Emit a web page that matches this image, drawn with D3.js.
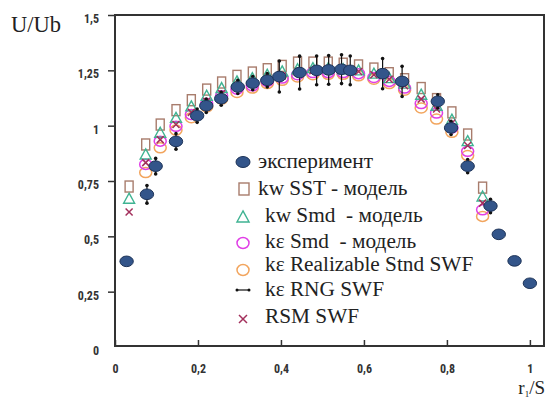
<!DOCTYPE html>
<html><head><meta charset="utf-8">
<script src="https://cdn.jsdelivr.net/npm/d3@7"></script>
<style>
html,body{margin:0;padding:0;background:#fff;}
svg{display:block;}
.tick text{font-family:"Roboto Condensed","DejaVu Sans Condensed",sans-serif;font-weight:bold;font-size:12px;fill:#333;}
.serif{font-family:"Liberation Serif","Times New Roman",serif;}
</style></head>
<body><svg id="c" width="546" height="401"></svg>
<script>
// ---- data ----
const xTicks = [0, 0.2, 0.4, 0.6, 0.8, 1];
const xTickLabels = ["0", "0,2", "0,4", "0,6", "0,8", "1"];
const yTicks = [0, 0.25, 0.5, 0.75, 1, 1.25, 1.5];
const yTickLabels = ["0", "0,25", "0,5", "0,75", "1", "1,25", "1,5"];

const xExp = [0.028, 0.077, 0.098, 0.147, 0.198, 0.22, 0.256, 0.296, 0.332, 0.367, 0.396, 0.445, 0.486, 0.515, 0.546, 0.567, 0.645, 0.692, 0.778, 0.81, 0.85, 0.905, 0.925, 0.963, 1.0];
const yExp = [0.387, 0.69, 0.817, 0.929, 1.045, 1.09, 1.122, 1.175, 1.192, 1.205, 1.222, 1.24, 1.25, 1.252, 1.255, 1.25, 1.235, 1.2, 1.11, 0.99, 0.817, 0.637, 0.509, 0.389, 0.288];
// kε RNG SWF shown as error bars on experiment points (half-range)
const errRNG = [0, 0.04, 0.035, 0.035, 0.03, 0.03, 0.03, 0.03, 0.03, 0.03, 0.07, 0.074, 0.065, 0.065, 0.065, 0.065, 0.068, 0.068, 0.03, 0.03, 0.03, 0.03, 0, 0, 0];

const xModel = [0.034, 0.074, 0.109, 0.147, 0.184, 0.221, 0.257, 0.294, 0.331, 0.367, 0.403, 0.44, 0.477, 0.514, 0.55, 0.587, 0.624, 0.661, 0.698, 0.738, 0.775, 0.812, 0.85, 0.886];
const kwSST = [0.725, 0.915, 1.005, 1.07, 1.115, 1.163, 1.195, 1.225, 1.24, 1.255, 1.27, 1.285, 1.285, 1.285, 1.28, 1.272, 1.258, 1.237, 1.21, 1.17, 1.12, 1.06, 0.96, 0.72];
const kwSmd = [0.67, 0.87, 0.968, 1.035, 1.087, 1.135, 1.17, 1.2, 1.215, 1.23, 1.245, 1.255, 1.26, 1.26, 1.255, 1.25, 1.235, 1.215, 1.19, 1.14, 1.09, 1.027, 0.93, 0.68];
const keSmd = [null, 0.825, 0.93, 0.997, 1.05, 1.1, 1.135, 1.165, 1.18, 1.2, 1.215, 1.23, 1.24, 1.24, 1.24, 1.235, 1.218, 1.2, 1.17, 1.1, 1.057, 0.99, 0.884, 0.62];
const keReal = [null, 0.788, 0.9, 0.98, 1.036, 1.085, 1.12, 1.15, 1.17, 1.19, 1.205, 1.22, 1.23, 1.232, 1.232, 1.225, 1.21, 1.19, 1.16, 1.08, 1.03, 0.97, 0.865, 0.59];
const rsm = [0.61, 0.833, 0.937, 1.005, 1.06, 1.11, 1.145, 1.175, 1.19, 1.21, 1.225, 1.24, 1.248, 1.25, 1.25, 1.245, 1.23, 1.21, 1.18, 1.12, 1.075, 1.012, 0.91, 0.65];

const legendLabels = ["эксперимент", "kw SST - модель", "kw Smd  - модель", "kε Smd  - модель", "kε Realizable Stnd SWF", "kε RNG SWF", "RSM SWF"];

// ---- styles ----
const C = {exp:"#33558a", expStroke:"#1d3358", sq:"#a87c6c", tri:"#3fb392", mag:"#e03ee6", org:"#f2a55e", x:"#a3305c", ax:"#333"};

const svg = d3.select("#c");
const L = 115, R = 544, T = 15, B = 346;
const x = d3.scaleLinear().domain([0, 1.034]).range([L, R]);
const y = d3.scaleLinear().domain([0, 1.5]).range([347, T]);

// axes
const xAxis = d3.axisBottom(x).tickValues(xTicks).tickFormat((d,i)=>xTickLabels[i]).tickSize(-6).tickPadding(18).tickSizeOuter(0);
const gx = svg.append("g").attr("transform",`translate(0,${B})`).call(xAxis);
gx.select(".domain").remove();
gx.selectAll(".tick line").attr("stroke",C.ax).attr("stroke-width",1.5);

const yAxis = d3.axisLeft(y).tickValues(yTicks).tickFormat((d,i)=>yTickLabels[i]).tickSize(7).tickPadding(9).tickSizeOuter(0);
const gy = svg.append("g").attr("transform",`translate(${L},0)`).call(yAxis);
gy.select(".domain").remove();
gy.selectAll(".tick line").attr("stroke",C.ax).attr("stroke-width",1.5);
gy.selectAll(".tick text").attr("dy","0.62em");
gy.selectAll(".tick").filter(d=>d===0).select("line").remove();

// frame
svg.append("rect").attr("x",L).attr("y",T).attr("width",R-L).attr("height",B-T)
  .attr("fill","none").attr("stroke",C.ax).attr("stroke-width",2);

// axis titles
svg.append("text").attr("class","serif").attr("x",11).attr("y",32).attr("font-size",22.5).attr("fill","#222").text("U/Ub");
const t2 = svg.append("text").attr("class","serif").attr("x",545).attr("y",394).attr("text-anchor","end").attr("font-size",19).attr("fill","#222");
t2.append("tspan").text("r");
t2.append("tspan").attr("font-size",9).attr("dy",3).text("1");
t2.append("tspan").attr("dy",-3).text("/S");

// marker helpers
function square(g, cx, cy, w, h){ g.append("rect").attr("x",cx-w/2).attr("y",cy-h/2).attr("width",w).attr("height",h).attr("fill","none").attr("stroke",C.sq).attr("stroke-width",1.4); }
function tri(g, cx, cy, s){ g.append("path").attr("d",`M${cx},${cy-s*0.55}L${cx+s*0.55},${cy+s*0.45}L${cx-s*0.55},${cy+s*0.45}Z`).attr("fill","none").attr("stroke",C.tri).attr("stroke-width",1.4); }
function ring(g, cx, cy, rx, ry, col){ g.append("ellipse").attr("cx",cx).attr("cy",cy).attr("rx",rx).attr("ry",ry).attr("fill","none").attr("stroke",col).attr("stroke-width",1.5); }
function cross(g, cx, cy, s){ g.append("path").attr("d",`M${cx-s},${cy-s}L${cx+s},${cy+s}M${cx+s},${cy-s}L${cx-s},${cy+s}`).attr("stroke",C.x).attr("stroke-width",1.5); }
function blob(g, cx, cy, rx, ry){ g.append("ellipse").attr("cx",cx).attr("cy",cy).attr("rx",rx).attr("ry",ry).attr("fill",C.exp).attr("stroke",C.expStroke).attr("stroke-width",1); }
function errbar(g, cx, y1, y2){
  g.append("line").attr("x1",cx).attr("x2",cx).attr("y1",y1).attr("y2",y2).attr("stroke","#111").attr("stroke-width",1.2);
  g.append("circle").attr("cx",cx).attr("cy",y1).attr("r",1.8).attr("fill","#111");
  g.append("circle").attr("cx",cx).attr("cy",y2).attr("r",1.8).attr("fill","#111");
}

const gp = svg.append("g");
xModel.forEach((xv,i)=>{ if(kwSST[i]!=null) square(gp, x(xv), y(kwSST[i]), 8, 11); });
xModel.forEach((xv,i)=>{ if(keReal[i]!=null) ring(gp, x(xv), y(keReal[i]), 6, 5, C.org); });
xModel.forEach((xv,i)=>{ if(keSmd[i]!=null) ring(gp, x(xv), y(keSmd[i]), 6, 5, C.mag); });
xModel.forEach((xv,i)=>{ if(kwSmd[i]!=null) tri(gp, x(xv), y(kwSmd[i]), 10); });
xModel.forEach((xv,i)=>{ if(rsm[i]!=null) cross(gp, x(xv), y(rsm[i]), 3.5); });
xExp.forEach((xv,i)=>{ if(errRNG[i]>0) errbar(gp, x(xv), y(yExp[i]+errRNG[i]), y(yExp[i]-errRNG[i])); });
xExp.forEach((xv,i)=>{ blob(gp, x(xv), y(yExp[i]), 6.7, 5.3); });

// legend
const lg = svg.append("g");
const lgMarkY = [162, 189, 217, 243, 270, 290, 319];
const lgTextY = [168, 195, 222, 248, 271, 296, 323];
const lgTextX = [258, 258, 265, 265, 265, 265, 265];
const mx = 243;
blob(lg, mx, lgMarkY[0], 7, 5.5);
square(lg, mx+1, lgMarkY[1], 10, 12);
tri(lg, mx, lgMarkY[2], 11);
ring(lg, mx, lgMarkY[3], 6, 5.5, C.mag);
ring(lg, mx, lgMarkY[4], 6, 5.5, C.org);
lg.append("line").attr("x1",mx-6).attr("x2",mx+6).attr("y1",lgMarkY[5]).attr("y2",lgMarkY[5]).attr("stroke","#111").attr("stroke-width",1.2);
lg.append("circle").attr("cx",mx-6).attr("cy",lgMarkY[5]).attr("r",1.5).attr("fill","#111");
lg.append("circle").attr("cx",mx+6).attr("cy",lgMarkY[5]).attr("r",1.5).attr("fill","#111");
cross(lg, mx, lgMarkY[6], 4);
legendLabels.forEach((t,i)=>{
  lg.append("text").attr("class","serif").attr("x",lgTextX[i]).attr("y",lgTextY[i]).attr("font-size",21.3).attr("fill","#222").style("white-space","pre").text(t);
});
</script></body></html>
